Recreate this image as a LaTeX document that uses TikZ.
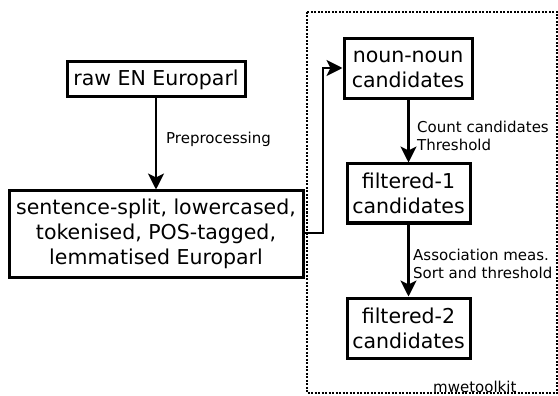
\documentclass[tikz,border=0pt]{standalone}
\usepackage{fontspec}
\setmainfont{DejaVu Sans}
\usetikzlibrary{arrows.meta}
\begin{document}
\begin{tikzpicture}[x=1pt,y=-1pt,
  box/.style={draw=black,line width=3pt,inner sep=0pt,align=center,
    font=\fontsize{20.5}{25}\selectfont},
  lbl/.style={inner sep=0pt,anchor=west,align=left,
    font=\fontsize{15}{18}\selectfont},
  conn/.style={draw=black,line width=2.5pt,
    -{Stealth[length=16pt,width=16pt,inset=4pt]}}]
\useasboundingbox (0,0) rectangle (558,396);
\fill[white] (0,0) rectangle (558,396);
% dotted frame
\draw[line width=2pt,dash pattern=on 2pt off 1.5pt] (307,12) rectangle (557,393);
\node[inner sep=0pt,anchor=base west,font=\fontsize{15}{18}\selectfont] (mwe) at (433,392) {mwetoolkit};
% boxes
\node[box,minimum width=178pt,minimum height=35pt] (raw) at (156,79.5) {raw EN Europarl};
\node[box,minimum width=294pt,minimum height=86pt] (big) at (156,234)
  {sentence-split, lowercased,\\tokenised, POS-tagged,\\lemmatised Europarl};
\node[box,minimum width=128pt,minimum height=60pt] (nn) at (408,69) {noun-noun\\candidates};
\node[box,minimum width=123pt,minimum height=59pt] (f1) at (408.5,193.5) {filtered-1\\candidates};
\node[box,minimum width=123pt,minimum height=60pt] (f2) at (408.5,328) {filtered-2\\candidates};
% connectors
\draw[conn] (raw.south) -- (big.north);
\node[lbl] (pre) at (166,139) {Preprocessing};
\coordinate (c1) at (323,233);
\coordinate (c2) at (323,68);
\draw[conn] (big.east |- c1) -- (c1) -- (c2) -- (nn.west |- c2);
\draw[conn] (nn.south -| f1.north) -- (f1.north);
\node[lbl] (cnt) at (417,136) {Count candidates\\Threshold};
\draw[conn] (f1.south) -- (f2.north);
\node[lbl] (assoc) at (413,264) {Association meas.\\Sort and threshold};
\end{tikzpicture}
\end{document}
